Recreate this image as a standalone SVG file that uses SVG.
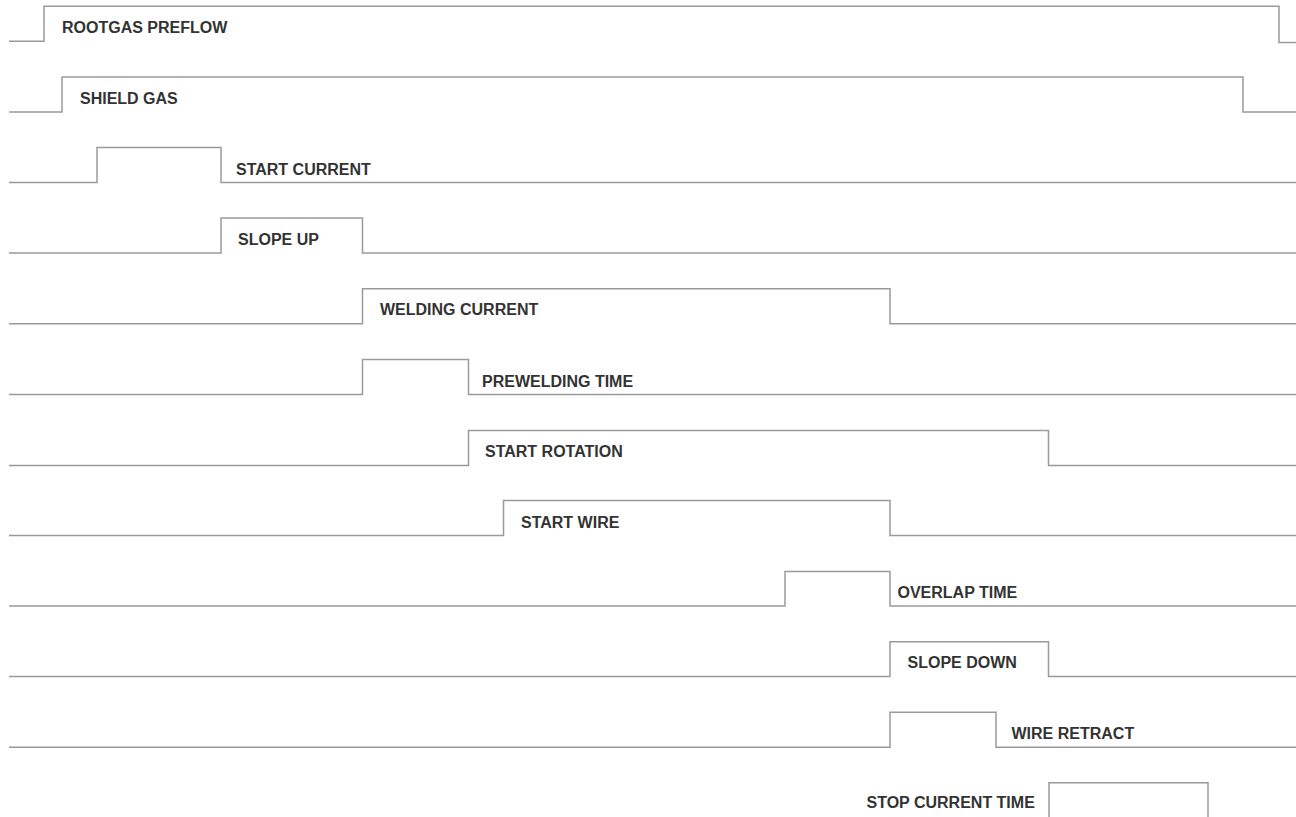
<svg xmlns="http://www.w3.org/2000/svg" width="1296" height="817" viewBox="0 0 1296 817">
<style>
.sig{fill:none;stroke:#9a9a9a;stroke-width:1.5;stroke-linejoin:miter}
.lbl{font-family:"Liberation Sans",Arial,sans-serif;font-weight:bold;font-size:16px;fill:#333333}
</style>
<rect width="1296" height="817" fill="#ffffff"/>
<g id="rootgas-preflow">
<path class="sig" d="M9,41.3 H44 V6.3 H1279 V42.5 H1296"/>
<text class="lbl" x="62" y="33">ROOTGAS PREFLOW</text>
</g>
<g id="shield-gas">
<path class="sig" d="M9,112 H62 V77 H1243 V112 H1296"/>
<text class="lbl" x="80" y="104">SHIELD GAS</text>
</g>
<g id="start-current">
<path class="sig" d="M9,182.5 H97 V147.5 H221 V182.5 H1296"/>
<text class="lbl" x="236" y="175">START CURRENT</text>
</g>
<g id="slope-up">
<path class="sig" d="M9,253 H221 V218 H362.5 V253 H1296"/>
<text class="lbl" x="238" y="245">SLOPE UP</text>
</g>
<g id="welding-current">
<path class="sig" d="M9,323.7 H362.5 V288.7 H890 V323.7 H1296"/>
<text class="lbl" x="380" y="315">WELDING CURRENT</text>
</g>
<g id="prewelding-time">
<path class="sig" d="M9,394.5 H362.5 V359.5 H468.5 V394.5 H1296"/>
<text class="lbl" x="482" y="386.5">PREWELDING TIME</text>
</g>
<g id="start-rotation">
<path class="sig" d="M9,465.5 H468.5 V430.5 H1048.5 V465.5 H1296"/>
<text class="lbl" x="485" y="457">START ROTATION</text>
</g>
<g id="start-wire">
<path class="sig" d="M9,535.5 H503.5 V500.5 H890 V535.5 H1296"/>
<text class="lbl" x="521" y="527.5">START WIRE</text>
</g>
<g id="overlap-time">
<path class="sig" d="M9,606 H785 V571.5 H890 V606 H1296"/>
<text class="lbl" x="897.5" y="597.5">OVERLAP TIME</text>
</g>
<g id="slope-down">
<path class="sig" d="M9,676.5 H890 V641.7 H1048.5 V676.5 H1296"/>
<text class="lbl" x="907.5" y="668.3">SLOPE DOWN</text>
</g>
<g id="wire-retract">
<path class="sig" d="M9,747.3 H890 V712.3 H996 V747.3 H1296"/>
<text class="lbl" x="1011.5" y="739">WIRE RETRACT</text>
</g>
<g id="stop-current-time">
<path class="sig" d="M1049,819 V782.7 H1208 V819"/>
<text class="lbl" x="866.5" y="808.3">STOP CURRENT TIME</text>
</g>
<g id="connectors"></g>
</svg>
